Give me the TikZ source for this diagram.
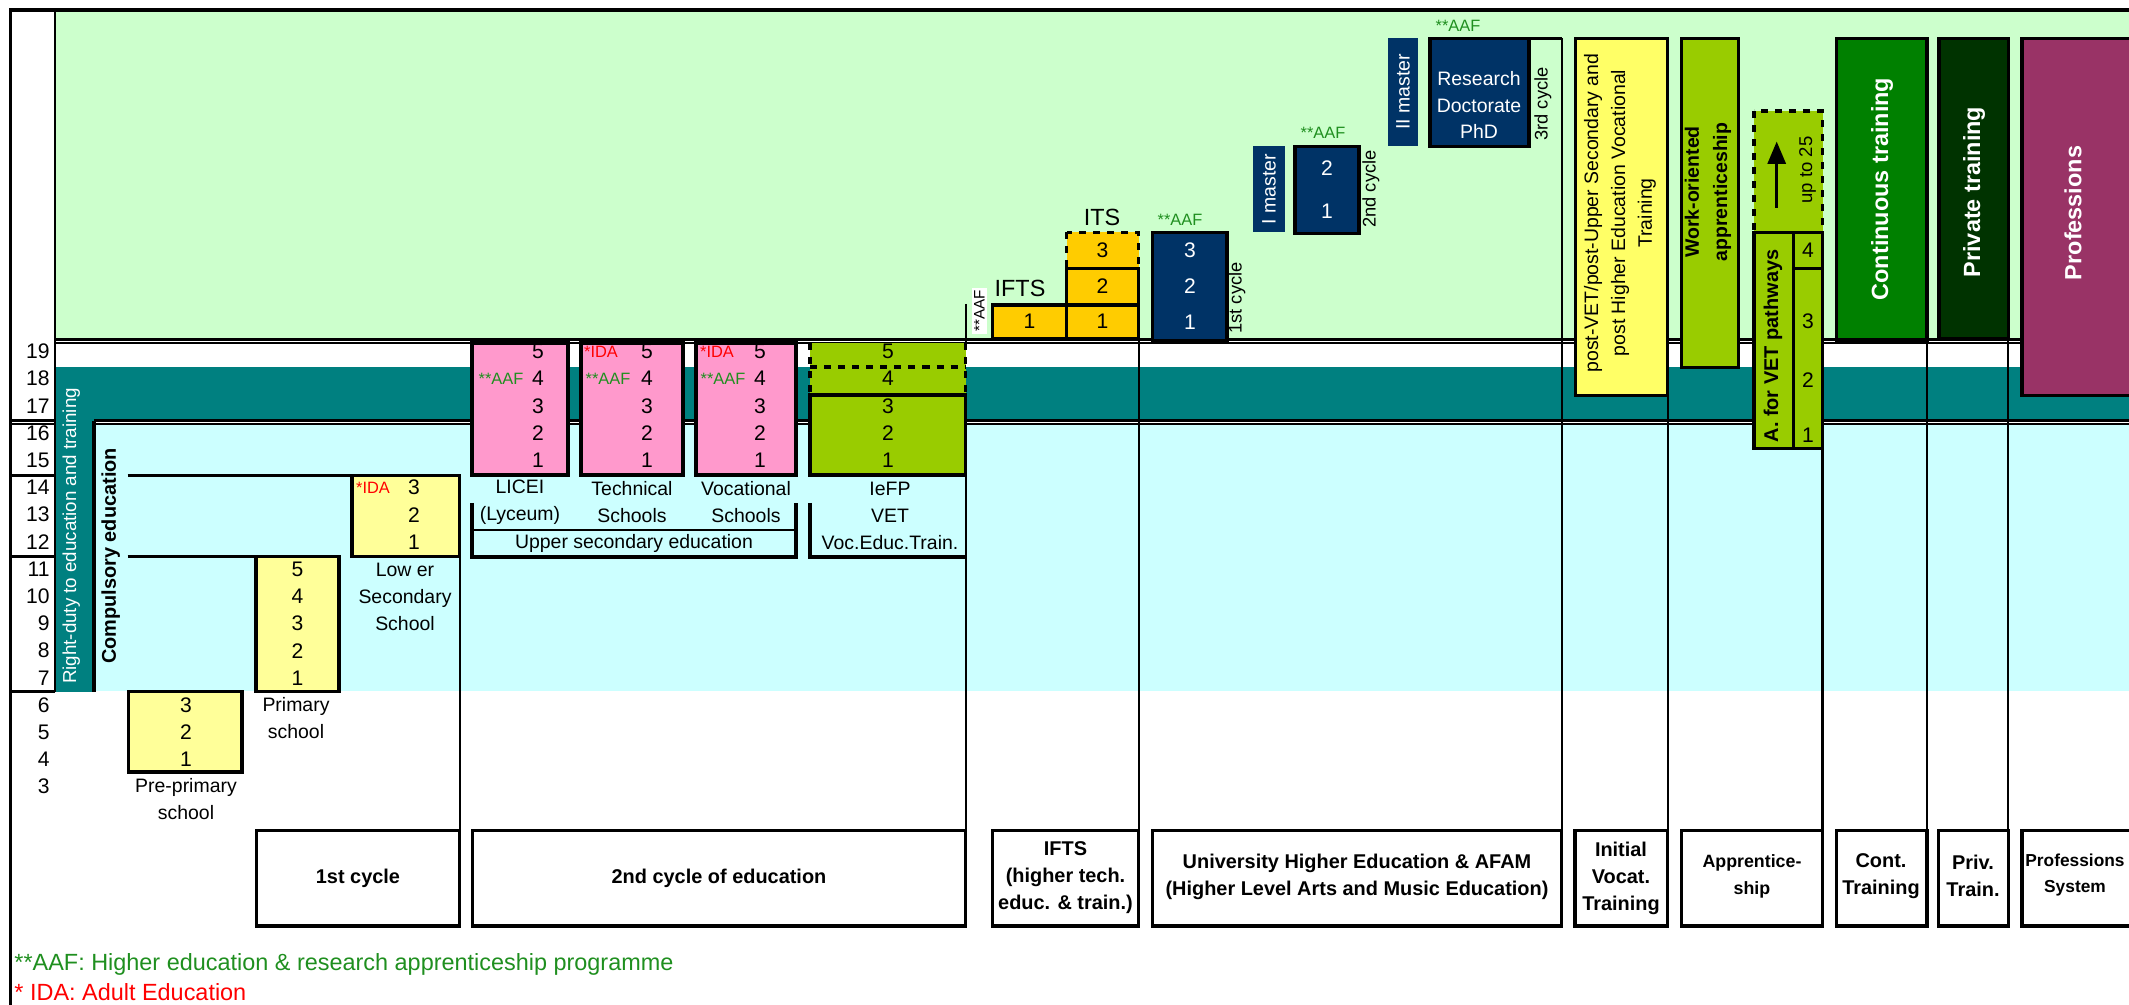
\documentclass[tikz,border=0pt]{standalone}
\usepackage{fontspec}
\setmainfont{Liberation Sans}
\usetikzlibrary{arrows,positioning}
\definecolor{lgreen}{HTML}{CCFFCC}
\definecolor{lcyan}{HTML}{CCFFFF}
\definecolor{dteal}{HTML}{008080}
\definecolor{lpink}{HTML}{FF99CC}
\definecolor{lyellow}{HTML}{FFFF99}
\definecolor{pyellow}{HTML}{FFFF66}
\definecolor{lime}{HTML}{99CC00}
\definecolor{orng}{HTML}{FFCC00}
\definecolor{navy}{HTML}{003366}
\definecolor{cgreen}{HTML}{008000}
\definecolor{pgreen}{HTML}{003300}
\definecolor{plum}{HTML}{993366}
\definecolor{aafgreen}{HTML}{1F8F1F}
\newcommand{\yage}[1]{(351.5+(19-(#1))*27.2)}
\tikzset{
  boxline/.style={line width=1.3pt},
  colline/.style={line width=0.9pt},
  num/.style={inner sep=0pt,font=\fontsize{9}{10}\selectfont},
  lbl/.style={inner sep=0pt,align=center,font=\fontsize{8.3}{11.5}\selectfont},
  smalltxt/.style={inner sep=0pt,font=\fontsize{7}{8}\selectfont},
  aafl/.style={smalltxt,text=aafgreen},
  idal/.style={smalltxt,text=red},
  boldlbl/.style={inner sep=0pt,align=center,font=\bfseries\fontsize{8.5}{11.5}\selectfont},
  bigw/.style={inner sep=0pt,rotate=90,text=white,font=\bfseries\fontsize{10}{12}\selectfont}
}

\begin{document}
\begin{tikzpicture}[x=0.015cm,y=-0.015cm]
\useasboundingbox (0,0) rectangle (2129,1005);

\fill[lgreen] (55,10) rectangle (2129,340);
\fill[dteal] (55,367) rectangle (2129,422);
\fill[dteal] (55,367) rectangle (94,692);
\fill[lcyan] (94,423) rectangle (2129,691);

\draw[boxline] (10.7,1005) -- (10.7,10) -- (2129,10);
\draw[colline] (54.6,10) -- (54.6,692);
\foreach \yy in {339.5,343} \draw[colline] (54.6,\yy) -- (2129,\yy);
\foreach \yy in {420.5,424} {
\draw[colline] (10.7,\yy) -- (54.6,\yy);
\draw[colline] (94,\yy) -- (2129,\yy);
}
\foreach \yy in {475.5,556.5,691.5} \draw[colline] (10.7,\yy) -- (54.6,\yy);
\draw[boxline] (94,421) -- (94,692);
\draw[boxline] (127.5,475.5) -- (352,475.5);
\draw[boxline] (127.5,556.5) -- (256,556.5);

\foreach \xx/\ya in {459.6/556.5,965.8/395,1138.6/338.5,1561.7/38.5,1667.7/395.7,1822.5/448.3,1927/340,2008.4/338.3}
\draw[colline] (\xx,\ya) -- (\xx,926);
\draw[colline] (965.8,304) -- (965.8,343);
\draw[colline] (1430,38.5) -- (1561.7,38.5);

\draw[boxline,fill=lyellow] (128.6,691.5) rectangle (242,772);
\draw[boxline,fill=lyellow] (256,556.5) rectangle (339,691.5);
\draw[boxline,fill=lyellow] (352,475.5) rectangle (459.6,556.5);
\foreach \xa/\xb in {472/568,581/683,696/796}
\draw[boxline,fill=lpink] (\xa,343) rectangle (\xb,475);
\fill[lime] (810,343) rectangle (965.8,475);
\draw[boxline] (810,395) -- (810,475) -- (965.8,475) -- (965.8,395) -- cycle;
\draw[boxline,dashed] (810,343) -- (810,395) (965.8,343) -- (965.8,395) (810,367) -- (965.8,367);
\draw[boxline] (472,503) -- (472,557) -- (796,557) -- (796,503);
\draw[colline] (472,530) -- (796,530);
\draw[boxline] (810,503) -- (810,557) -- (965.8,557);

\draw[boxline,fill=orng,dashed] (1066.5,232.3) rectangle (1138.6,268.3);
\draw[boxline,fill=orng] (1066.5,268.3) rectangle (1138.6,305);
\draw[boxline,fill=orng] (1066.5,305) rectangle (1138.6,338.5);
\draw[boxline,fill=orng] (992.8,305) rectangle (1066.5,338.5);

\draw[boxline,fill=navy] (1152.7,232.3) rectangle (1227,340.7);
\fill[navy] (1253,146) rectangle (1285,231.7);
\draw[boxline,fill=navy] (1295,146.7) rectangle (1359,233.3);
\fill[navy] (1388,38.3) rectangle (1418,145.7);
\draw[boxline,fill=navy] (1430,38.5) rectangle (1529,146.7);

\draw[boxline,fill=pyellow] (1575.7,38.3) rectangle (1667.7,395.7);
\draw[boxline,fill=lime] (1681.6,38.3) rectangle (1738.3,367.7);
\draw[boxline,fill=lime,dashed] (1754,111) rectangle (1822.5,232.3);
\draw[boxline,fill=lime] (1754,232.3) rectangle (1822.5,448.3);
\draw[boxline] (1793.6,232.3) -- (1793.6,448.3) (1793.6,268.3) -- (1822.5,268.3);
\draw[boxline,fill=cgreen] (1836.8,38.3) rectangle (1927,340);
\draw[boxline,fill=pgreen] (1939,38.3) rectangle (2008.4,338.3);
\draw[boxline,fill=plum] (2022,38.3) rectangle (2140,395.7);

\foreach \xa/\xb in {256.6/459.6,472.5/965.8,992.5/1138.6,1152.7/1561.7,1575/1667.7,1681.5/1822.5,1836.5/1927,1938.5/2008.4,2022/2140}
\draw[boxline] (\xa,830.7) rectangle (\xb,926);

\foreach \a in {3,...,19} \node[num,anchor=east] (age\a) at (50,{\yage{\a}}) {\a};
\foreach \n in {1,2,3} {
\node[num] (pre\n) at (186,{\yage{3+\n}}) {\n};
\node[num] (low\n) at (414,{\yage{11+\n}}) {\n};
}
\foreach \n in {1,...,5} {
\node[num] (pri\n) at (297.5,{\yage{6+\n}}) {\n};
\node[num] (lic\n) at (538,{\yage{14+\n}}) {\n};
\node[num] (tec\n) at (647,{\yage{14+\n}}) {\n};
\node[num] (voc\n) at (760,{\yage{14+\n}}) {\n};
\node[num] (vet\n) at (888,{\yage{14+\n}}) {\n};
}
\node[idal] (idalow) at (373,{\yage{14}}) {*IDA};
\node[idal] (idatec) at (601,{\yage{19}}) {*IDA};
\node[idal] (idavoc) at (717,{\yage{19}}) {*IDA};
\node[aafl] (aaflic) at (501,{\yage{18}}) {**AAF};
\node[aafl] (aaftec) at (608,{\yage{18}}) {**AAF};
\node[aafl] (aafvoc) at (723,{\yage{18}}) {**AAF};

\node[inner sep=0pt,rotate=90,text=white,font=\fontsize{8}{9}\selectfont] (duty) at (71.4,536) {Right-duty to education and training};
\node[boldlbl,rotate=90] (compul) at (110.7,556) {Compulsory education};

\node[lbl] (prelbl) at (186,799.5) {Pre-primary\\school};
\node[lbl] (prilbl) at (296,718) {Primary\\school};
\node[lbl] (lowlbl) at (405,596.5) {Low er\\Secondary\\School};
\node[lbl] (liclbl) at (520,502) {LICEI\\(Lyceum)};
\node[lbl] (teclbl) at (632,502) {Technical\\Schools};
\node[lbl] (voclbl) at (746,502) {Vocational\\Schools};
\node[lbl] (upplbl) at (634,543) {Upper secondary education};
\node[lbl] (vetlbl) at (890,515.5) {IeFP\\VET\\Voc.Educ.Train.};

\node[inner sep=0pt,rotate=90,fill=white,inner sep=1pt,font=\fontsize{6.5}{7}\selectfont] (aafifts) at (979.5,311) {**AAF};
\node[inner sep=0pt,font=\fontsize{10}{12}\selectfont] (iftslbl) at (1020,288) {IFTS};
\node[inner sep=0pt,font=\fontsize{10}{12}\selectfont] (itslbl) at (1102,217) {ITS};
\node[num] (ifts1) at (1029.6,321.7) {1};
\foreach \n/\yy in {1/321.7,2/286.6,3/250.3} \node[num] (its\n) at (1102.5,\yy) {\n};

\foreach \n/\yy in {1/322.6,2/286.5,3/250.4} \node[num,text=white] (bac\n) at (1190,\yy) {\n};
\foreach \n/\yy in {1/211.7,2/168.3} \node[num,text=white] (mas\n) at (1327,\yy) {\n};
\node[aafl] (aafbac) at (1180,220) {**AAF};
\node[aafl] (aafmas) at (1323,133) {**AAF};
\node[aafl] (aafphd) at (1458,26) {**AAF};
\node[lbl,rotate=90,font=\fontsize{7.8}{9}\selectfont] (cyc1) at (1237,298) {1st cycle};
\node[lbl,rotate=90,font=\fontsize{7.8}{9}\selectfont] (cyc2) at (1371,189) {2nd cycle};
\node[lbl,rotate=90,font=\fontsize{7.8}{9}\selectfont] (cyc3) at (1543,104) {3rd cycle};
\node[lbl,rotate=90,text=white] (imas) at (1269,189) {I master};
\node[lbl,rotate=90,text=white] (iimas) at (1403,92) {II master};
\node[lbl,text=white] (phd) at (1479,105) {Research\\Doctorate\\PhD};

\node[lbl,rotate=90] (postvet) at (1620,213) {post-VET/post-Upper Secondary and\\post Higher Education Vocational\\Training};
\node[boldlbl,rotate=90,font=\bfseries\fontsize{8.3}{12}\selectfont] (work) at (1708,192) {Work-oriented\\apprenticeship};
\coordinate (uplo) at (1776.7,208);
\coordinate (uphi) at (1776.7,141.7);
\draw[line width=1.2pt,-triangle 45] (uplo) -- (uphi);
\node[lbl,rotate=90,font=\fontsize{7.9}{9}\selectfont] (upto) at (1807.5,170) {up to 25};
\node[boldlbl,rotate=90] (apath) at (1773,346) {A. for VET pathways};
\foreach \n/\yy in {1/435,2/380,3/321.7,4/250} \node[num] (app\n) at (1808,\yy) {\n};
\node[bigw] (cont) at (1882,189) {Continuous training};
\node[bigw] (priv) at (1974,192) {Private training};
\node[bigw] (prof) at (2073,213) {Professions};

\node[boldlbl] (b1) at (358,878.5) {1st cycle};
\node[boldlbl] (b2) at (719,878.5) {2nd cycle of education};
\node[boldlbl] (b3) at (1065.5,878) {IFTS\\(higher tech.\\educ. \& train.)};
\node[boldlbl] (b4) at (1357,877) {University Higher Education \& AFAM\\(Higher Level Arts and Music Education)};
\node[boldlbl] (b5) at (1621,878) {Initial\\Vocat.\\Training};
\node[boldlbl,font=\bfseries\fontsize{7.6}{11.5}\selectfont] (b6) at (1752,876) {Apprentice-\\ship};
\node[boldlbl] (b7) at (1881,876) {Cont.\\Training};
\node[boldlbl] (b8) at (1973,876) {Priv.\\Train.};
\node[boldlbl,font=\bfseries\fontsize{7.4}{11.5}\selectfont] (b9) at (2075,875) {Professions\\System};

\node[anchor=west,inner sep=0pt,text=aafgreen,font=\fontsize{10}{12}\selectfont] (legaaf) at (14,964) {**AAF: Higher education \& research apprenticeship programme};
\node[anchor=west,inner sep=0pt,text=red,font=\fontsize{10}{12}\selectfont] (legida) at (14,992) {* IDA: Adult Education};
\end{tikzpicture}
\end{document}
